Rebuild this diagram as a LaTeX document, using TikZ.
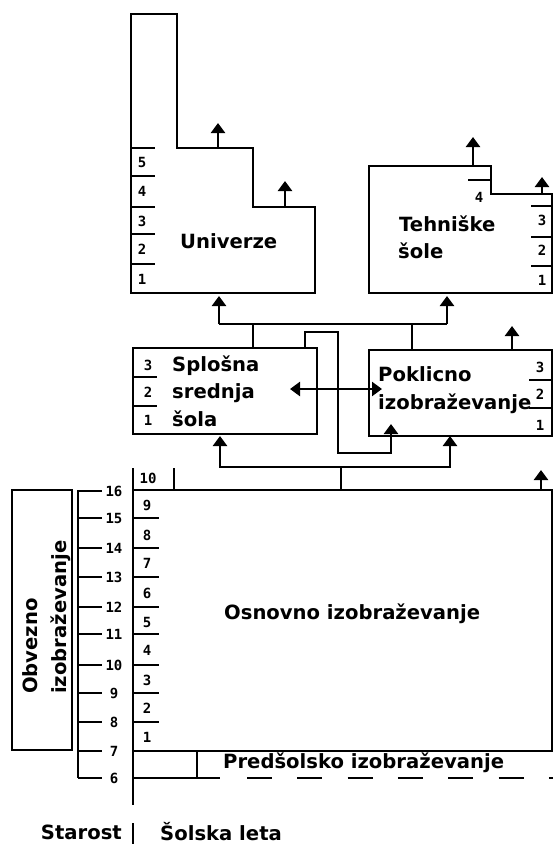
\documentclass[tikz,border=0pt]{standalone}
\usepackage{fontspec}
\setmainfont{DejaVu Sans}
\newfontfamily\digitfont{DejaVu Sans Mono}
\usetikzlibrary{arrows.meta}
\begin{document}
\begin{tikzpicture}[x=1pt,y=-1pt, line width=2.4pt,
  lbl/.style={font=\fontsize{19.6}{23}\selectfont\bfseries, inner sep=0pt, anchor=base west},
  dig/.style={font=\digitfont\fontsize{14}{16}\selectfont\bfseries, inner sep=0pt},
  arr/.style={-{Triangle[width=14pt,length=10pt]}},
  darr/.style={{Triangle[width=14pt,length=10pt]}-{Triangle[width=14pt,length=10pt]}},
  tick/.style={line width=2.4pt}]
\useasboundingbox (0,0) rectangle (553,844);

% ---------------- Univerze ----------------
\draw (131,14) -- (177,14) -- (177,148) -- (253,148) -- (253,207) -- (315,207) -- (315,293) -- (131,293) -- cycle;
\node[lbl] (univ) at (179,248) {Univerze};
\foreach \y in {148,176,207,234,264} \draw[tick] (131,\y) -- (155,\y);
\foreach \d/\y in {5/162,4/191,3/221,2/249,1/279} \node[dig] (u\d) at (142,\y) {\d};
\coordinate (uA1) at (218,148); \coordinate (uA1t) at (218,123);
\coordinate (uA2) at (285,207); \coordinate (uA2t) at (285,181);
\draw[arr] (uA1) -- (uA1t);
\draw[arr] (uA2) -- (uA2t);

% ---------------- Tehniske sole ----------------
\draw (369,166) -- (491,166) -- (491,194) -- (552,194) -- (552,293) -- (369,293) -- cycle;
\node[lbl] (teh1) at (398,231) {Tehniške};
\node[lbl] (teh2) at (397,258) {šole};
\draw[tick] (468,180) -- (491,180);
\node[dig] (t4) at (479,197) {4};
\foreach \y in {206,237,266} \draw[tick] (531,\y) -- (552,\y);
\foreach \d/\y in {3/220,2/250,1/280} \node[dig] (t\d) at (542,\y) {\d};
\coordinate (tA1) at (473,166); \coordinate (tA1t) at (473,137);
\coordinate (tA2) at (542,194); \coordinate (tA2t) at (542,177);
\draw[arr] (tA1) -- (tA1t);
\draw[arr] (tA2) -- (tA2t);

% ---------------- connectors secondary -> tertiary ----------------
\coordinate (jU) at (219,324); \coordinate (uIn) at (219,296);
\coordinate (jT) at (447,324); \coordinate (tIn) at (447,296);
\coordinate (jS) at (253,324); \coordinate (sTop) at (253,348);
\coordinate (jP) at (412,324); \coordinate (pTop) at (412,350);
\draw[arr] (jU) -- (uIn);
\draw[arr] (jT) -- (tIn);
\draw (jU) -- (jT);
\draw (jS) -- (sTop);
\draw (jP) -- (pTop);

% ---------------- Splosna srednja sola ----------------
\draw (133,348) rectangle (317,434);
\node[lbl] (spl1) at (171,371) {Splošna};
\node[lbl] (spl2) at (171,398) {srednja};
\node[lbl] (spl3) at (171,426) {šola};
\foreach \y in {377,406} \draw[tick] (133,\y) -- (157,\y);
\foreach \d/\y in {3/365,2/392,1/420} \node[dig] (s\d) at (148,\y) {\d};

% ---------------- Poklicno izobrazevanje ----------------
\draw (369,350) rectangle (552,436);
\node[lbl] (pok1) at (377,381) {Poklicno};
\node[lbl] (pok2) at (377,409) {izobraževanje};
\foreach \y in {380,408} \draw[tick] (529,\y) -- (552,\y);
\foreach \d/\y in {3/367,2/394,1/425} \node[dig] (p\d) at (540,\y) {\d};
\coordinate (pA) at (512,350); \coordinate (pAt) at (512,326);
\draw[arr] (pA) -- (pAt);

% double arrow between secondary schools
\coordinate (dL) at (290,389); \coordinate (dR) at (382,389);
\draw[darr] (dL) -- (dR);

% loop from Splosna top to Poklicno bottom
\coordinate (lp0) at (305,348); \coordinate (lp1) at (305,332);
\coordinate (lp2) at (338,332); \coordinate (lp3) at (338,453);
\coordinate (lp4) at (391,453); \coordinate (lp5) at (391,424);
\draw[arr] (lp0) -- (lp1) -- (lp2) -- (lp3) -- (lp4) -- (lp5);

% ---------------- connectors primary -> secondary ----------------
\coordinate (bS) at (220,467); \coordinate (bSt) at (220,436);
\coordinate (bP) at (450,467); \coordinate (bPt) at (450,436);
\coordinate (bM) at (341,467); \coordinate (bMt) at (341,490);
\draw[arr] (bM) -- (bS) -- (bSt);
\draw[arr] (bM) -- (bP) -- (bPt);
\draw (bM) -- (bMt);

% ---------------- Osnovno izobrazevanje ----------------
\draw (133,490) -- (552,490) -- (552,751);
\draw (133,751) -- (553,751);
\draw (133,468) -- (133,805);
\draw (174,468) -- (174,490);
\node[dig] (m10) at (148,478) {10};
\node[lbl] (osn) at (223,619) {Osnovno izobraževanje};
\foreach \y in {518,548,577,607,634,665,693,722} \draw[tick] (133,\y) -- (159,\y);
\foreach \d/\y in {9/505,8/535,7/563,6/593,5/622,4/650,3/680,2/708,1/737} \node[dig] (m\d) at (147,\y) {\d};
\coordinate (mA) at (541,490); \coordinate (mAt) at (541,470);
\draw[arr] (mA) -- (mAt);

% ---------------- Predsolsko ----------------
\draw (197,751) -- (197,778);
\draw (133,778) -- (220,778);
\draw[dash pattern=on 25pt off 25.3pt] (247,778) -- (553,778);
\node[lbl] (pred) at (222,768) {Predšolsko izobraževanje};

% ---------------- age axis ----------------
\draw (78,490) -- (78,778);
\foreach \a/\y in {16/491,15/518,14/548,13/577,12/607,11/634,10/665,9/693,8/722,7/751,6/778} {
  \draw[tick] (78,\y) -- (102,\y);
  \node[dig] (age\a) at (114,\y) {\a};
}

% ---------------- Obvezno ----------------
\draw (12,490) rectangle (72,750);
\node[lbl, rotate=90] (obv1) at (37,695) {Obvezno};
\node[lbl, rotate=90] (obv2) at (66,695) {izobraževanje};

% ---------------- bottom labels ----------------
\draw (133,823) -- (133,844);
\node[lbl, anchor=base east] (star) at (123,839) {Starost};
\node[lbl] (sleta) at (159,840) {Šolska leta};
\end{tikzpicture}
\end{document}
